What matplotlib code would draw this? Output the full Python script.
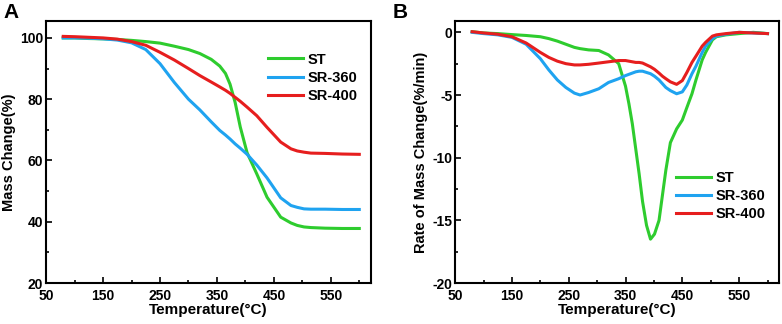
import numpy as np
import matplotlib
matplotlib.use('Agg')
import matplotlib.pyplot as plt
from matplotlib.ticker import MultipleLocator

plt.rcParams['font.family'] = ['Liberation Sans', 'DejaVu Sans']
plt.rcParams['font.weight'] = 'bold'
plt.rcParams['axes.unicode_minus'] = False

# Panel A: mass change (%)
tA = [80, 100, 125, 150, 175, 200, 225, 250, 275, 300, 320, 340, 355, 365, 373, 382, 391, 403,
      420, 438, 462, 480, 491, 503, 515, 540, 570, 600]
massST = [100, 100, 99.8, 99.7, 99.5, 99.2, 98.8, 98.3, 97.3, 96.2, 94.9, 93.0, 90.8, 88.4, 84.9,
          78.9, 70.9, 62.5, 55.6, 48.0, 41.5, 39.6, 38.8, 38.3, 38.1, 37.9, 37.8, 37.8]
massSR360 = [100, 100, 99.9, 99.7, 99.3, 98.4, 96.2, 91.6, 85.5, 80.0, 76.5, 72.6, 69.8, 68.3, 67.0,
             65.4, 64.0, 62.0, 58.5, 54.3, 47.8, 45.3, 44.7, 44.2, 44.1, 44.1, 44.0, 44.0]
massSR400 = [100.5, 100.4, 100.2, 100.0, 99.6, 98.8, 97.6, 95.3, 92.8, 90.0, 87.7, 85.6, 84.0, 82.9,
             81.9, 80.6, 79.3, 77.4, 74.6, 70.8, 66.0, 63.8, 63.1, 62.7, 62.4, 62.3, 62.1, 62.0]

# Panel B: rate of mass change (%/min)
tB = [80, 100, 125, 150, 175, 200, 215, 230, 245, 260, 270, 285, 303, 320, 338, 350, 356, 362, 368,
      374, 380, 387, 394, 401, 409, 415, 421, 429, 440, 450, 458, 467, 474, 485, 491, 503, 510, 527,
      550, 575, 600]
rateST = [0.05, -0.05, -0.1, -0.18, -0.25, -0.35, -0.5, -0.7, -0.95, -1.2, -1.3, -1.4, -1.45, -1.8,
          -2.5, -4.3, -5.7, -7.3, -9.3, -11.3, -13.5, -15.4, -16.5, -16.1, -15.0, -13.0, -11.0, -8.8,
          -7.7, -7.0, -6.0, -4.9, -3.8, -2.2, -1.6, -0.6, -0.35, -0.2, -0.1, 0.0, -0.1]
rateSR360 = [0, -0.1, -0.2, -0.4, -0.95, -2.1, -3.0, -3.8, -4.4, -4.85, -5.0, -4.8, -4.5, -4.0, -3.7,
             -3.45, -3.35, -3.25, -3.15, -3.1, -3.1, -3.2, -3.3, -3.5, -3.8, -4.1, -4.4, -4.65, -4.9,
             -4.75, -4.2, -3.3, -2.7, -1.6, -1.1, -0.5, -0.3, -0.15, 0.0, -0.05, -0.1]
rateSR400 = [0.05, -0.05, -0.15, -0.35, -0.85, -1.6, -2.0, -2.3, -2.5, -2.6, -2.6, -2.55, -2.45,
             -2.35, -2.25, -2.25, -2.3, -2.35, -2.4, -2.4, -2.45, -2.6, -2.75, -2.95, -3.25, -3.5,
             -3.7, -3.95, -4.15, -3.85, -3.2, -2.4, -1.9, -1.1, -0.8, -0.3, -0.2, -0.1, 0.0, -0.05, -0.1]

labels = ['ST', 'SR-360', 'SR-400']
colors = ['#2ecc2e', '#1fa3f0', '#e61e1e']

fig = plt.figure(figsize=(7.82, 3.24), dpi=100)
axA = fig.add_axes([0.059, 0.1265, 0.415, 0.8085])
axB = fig.add_axes([0.582, 0.1265, 0.414, 0.8085])

for ys, lab, c in zip([massST, massSR360, massSR400], labels, colors):
    axA.plot(tA, ys, color=c, lw=2.2, label=lab)
for ys, lab, c in zip([rateST, rateSR360, rateSR400], labels, colors):
    axB.plot(tB, ys, color=c, lw=2.2, label=lab)

axA.set_xlim(50, 620)
axA.set_ylim(20, 105.5)
axA.yaxis.set_major_locator(MultipleLocator(20))
axA.yaxis.set_minor_locator(MultipleLocator(10))
axA.set_ylabel('Mass Change(%)', fontsize=10.5, fontweight='bold', labelpad=3)

axB.set_xlim(50, 620)
axB.set_ylim(-20, 0.9)
axB.yaxis.set_major_locator(MultipleLocator(5))
axB.yaxis.set_minor_locator(MultipleLocator(2.5))
axB.set_ylabel('Rate of Mass Change(%/min)', fontsize=10.5, fontweight='bold', labelpad=3)

for ax in [axA, axB]:
    ax.set_xticks([50, 150, 250, 350, 450, 550])
    ax.xaxis.set_minor_locator(MultipleLocator(50))
    ax.set_xlabel('Temperature(\u00b0C)', fontsize=11, fontweight='bold', labelpad=0)
    ax.tick_params(which='both', direction='in', width=1.2, labelsize=10)
    ax.tick_params(axis='x', pad=4)
    ax.tick_params(axis='y', pad=2)
    ax.tick_params(which='major', length=4)
    ax.tick_params(which='minor', length=2)
    for s in ax.spines.values():
        s.set_linewidth(1.5)

axA.legend(loc='upper right', bbox_to_anchor=(1.0, 0.93), frameon=False,
           handlelength=2.4, handletextpad=0.3, labelspacing=0.3, prop={'weight': 'bold', 'size': 10.5})
axB.legend(loc='lower right', bbox_to_anchor=(1.0, 0.185), frameon=False,
           handlelength=2.4, handletextpad=0.3, labelspacing=0.3, prop={'weight': 'bold', 'size': 10.5})

fig.text(0.004, 0.99, 'A', fontsize=15, fontweight='bold', va='top')
fig.text(0.502, 0.99, 'B', fontsize=15, fontweight='bold', va='top')

fig.savefig('out.png', dpi=100)
